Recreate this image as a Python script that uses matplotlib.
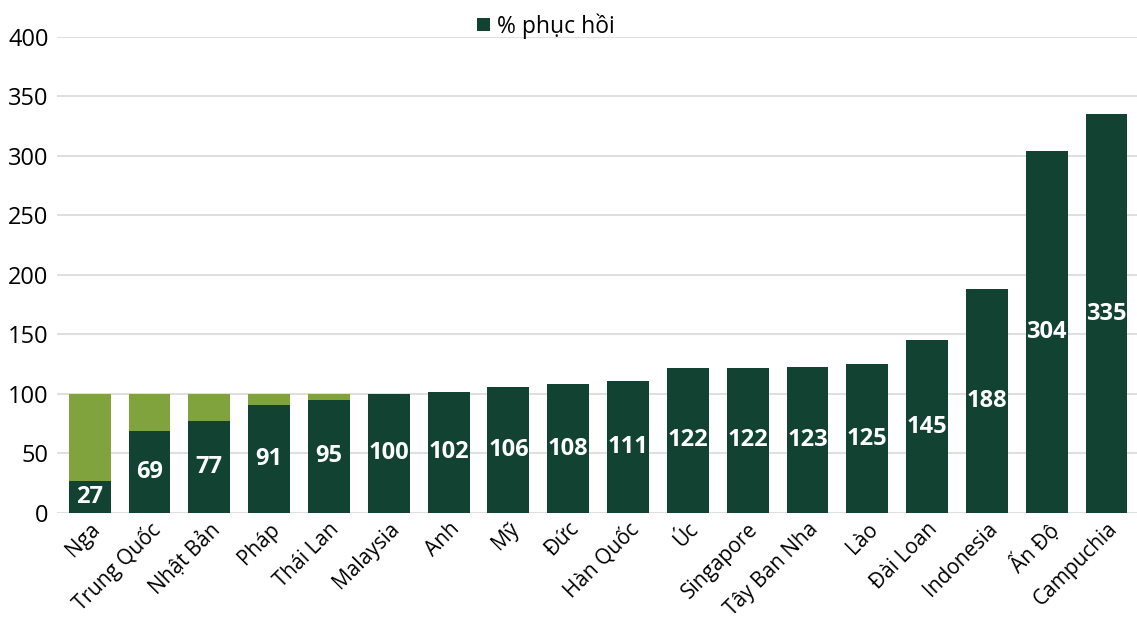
import numpy as np
import matplotlib.pyplot as plt

countries = ["Nga", "Trung Quốc", "Nhật Bản", "Pháp", "Thái Lan", "Malaysia", "Anh",
             "Mỹ", "Đức", "Hàn Quốc", "Úc", "Singapore", "Tây Ban Nha", "Lào",
             "Đài Loan", "Indonesia", "Ấn Độ", "Campuchia"]
recovery = [27, 69, 77, 91, 95, 100, 102, 106, 108, 111, 122, 122, 123, 125, 145, 188, 304, 335]
yticks = [0, 50, 100, 150, 200, 250, 300, 350, 400]

dark = "#114232"
light = "#80a33e"

plt.rcParams['font.family'] = ['Open Sans', 'DejaVu Sans']

fig = plt.figure(figsize=(11.37, 6.26), dpi=100)
ax = fig.add_axes([0.05, 0.1805, 0.95, 0.7605])

x = np.arange(len(countries))
rec = np.array(recovery)
gap = np.where(rec < 100, 100 - rec, 0)

bars = ax.bar(x, rec, width=0.7, color=dark, label="% phục hồi", zorder=3)
ax.bar(x, gap, bottom=rec, width=0.7, color=light, zorder=3)

for xi, v in zip(x, rec):
    ax.text(xi, v / 2, str(v), ha='center', va='center', color='white',
            fontsize=17, fontweight='bold', zorder=4)

ax.set_ylim(0, 400)
ax.set_yticks(yticks)
ax.set_xlim(-0.55, len(countries) - 0.49)
ax.set_xticks(x)
ax.set_xticklabels(countries, rotation=45, ha='right', rotation_mode='anchor', fontsize=15)
ax.tick_params(axis='y', labelsize=17, length=0, pad=6)
ax.tick_params(axis='x', length=0, pad=4)
ax.grid(axis='y', color='#d9d9d9', linewidth=1.2, zorder=0)
for s in ax.spines.values():
    s.set_visible(False)

fig.legend(handles=[bars], labels=["% phục hồi"], loc='upper center',
           bbox_to_anchor=(0.48, 1.012), frameon=False, fontsize=16.5,
           handlelength=0.55, handleheight=0.55, handletextpad=0.3)

fig.savefig("out.png", dpi=100)
